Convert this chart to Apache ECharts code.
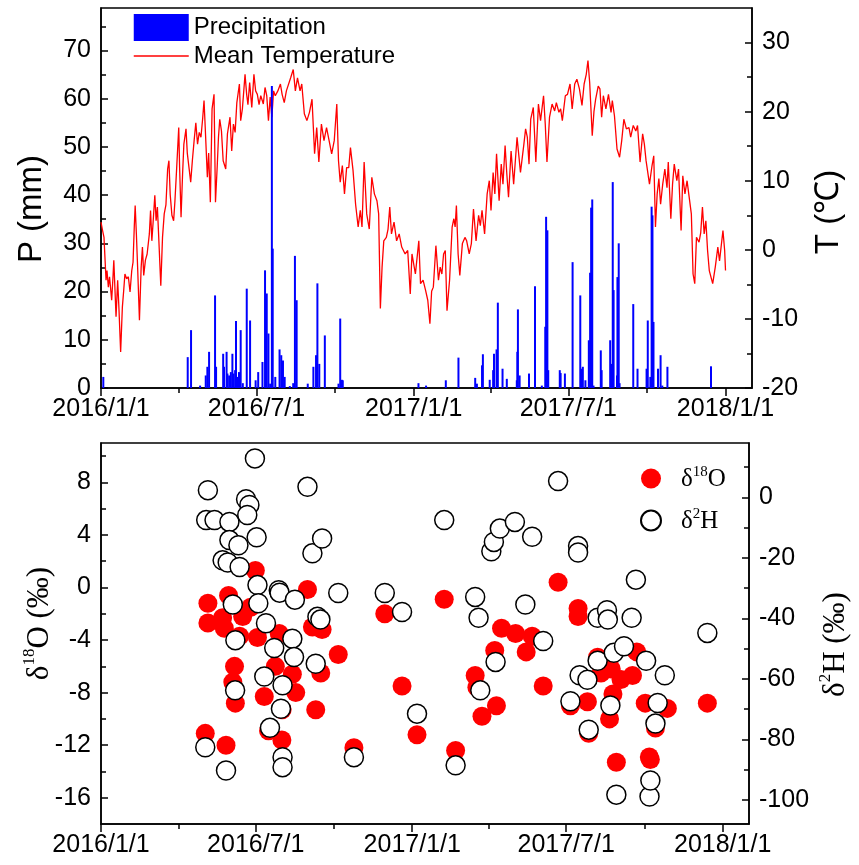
<!DOCTYPE html>
<html><head><meta charset="utf-8">
<script src="https://cdn.jsdelivr.net/npm/echarts@6/dist/echarts.min.js"></script>
<style>html,body{margin:0;padding:0;background:#fff}#c{width:859px;height:865px}</style>
</head><body><div id="c"></div>
<script>
// x positions are days counted from 2016/1/1
const xTickDays = [0, 182, 366, 547, 731];
const xTickLabels = ['2016/1/1', '2016/7/1', '2017/1/1', '2017/7/1', '2018/1/1'];
const xMinorDays = [91, 274, 456, 639];

const pTicks = [0, 10, 20, 30, 40, 50, 60, 70];
const pMinor = [5, 15, 25, 35, 45, 55, 65, 75];
const tTicks = [-20, -10, 0, 10, 20, 30];
const tMinor = [-15, -5, 5, 15, 25];
const oTicks = [-16, -12, -8, -4, 0, 4, 8];
const oMinor = [-14, -10, -6, -2, 2, 6, 10];
const hTicks = [-100, -80, -60, -40, -20, 0];
const hMinor = [-90, -70, -50, -30, -10, 10];

const tempDay = [0,1.5,3.5,5.9,7,8.6,10,12.5,14,15,17.6,19.5,21,23,25,26.5,28,30,32,34,36,37.5,39,40,41.5,43,45,47,48.5,50,52,54,56.6,58,59.5,61,63,64.5,66,67.5,70,72,74,76,78,79.5,81,83,85,86.5,88.6,91,92,93.7,95.5,97,99.5,101,103,105,107,109,111,113,115,117,119,120.6,122,124.5,126,128,130,132.3,134,136,137.5,139,141,143,146,148,151,153,155,157,159,162,163.5,165.5,168.6,170.5,172,174,176.5,179,181,183,185,187,190,192,194,196,198,200,202,204,207,210,212,214.5,217,219,222,225,227.5,230,233,235,238,241,244,247,250,252.5,255,258,261,264,267,270,273,276,278,280,282.5,285,287.5,290,292,295,298,301,303.5,305.5,308,311,314,317,320,323,325,327,329,331,334,336,338,340,343,346,349,352,356,359,362,364,368,372,374,377,380,382.5,385,387,389,392,395,397,399,401,403,405,408,411,413,414.5,416,418,420,423,426,428,431,433.5,436,439,442,444,446,449,452,454.5,456.5,459,461,463,466,468.5,470.5,473,475,477,480,483,487,491,495,497,499,501,503,506,509,512,514.5,518,520,522,525,528,531,533,536,538,540,543.5,546,549,551.5,554.5,557,560,563,565.5,568,570,572,575,577,579,582,584,586,588,591,594,597,598.5,601,604,607,609.5,612,615,618,620,623,626,628,631,634,636,638,640,642,645,647,649,651,653,655,657.5,660,662.5,664,667,669,671,674,676,679,681,683.5,686,688.5,691,693,695,697,700,702,704,706,708,710,712,714,716,719,722,724,728,730,731];
const tempVal = [4.0,3.0,1.8,-4.4,-3.0,-5.4,-3.9,-7.3,-4.0,-1.5,-9.7,-4.4,-8.5,-14.8,-8.3,-6.0,-3.5,-4.2,-3.9,-6.1,-3.0,-1.8,3.5,6.4,2.0,-3.0,-10.2,-2.5,0.4,-3.7,-1.5,-0.6,2.3,5.7,1.3,4.0,7.9,4.2,6.2,2.0,-5.2,1.8,5.2,6.5,11.7,12.9,8.0,5.0,4.2,7.0,11.9,17.7,12.0,4.7,11.0,15.3,17.5,14.0,11.9,9.8,13.0,15.8,18.4,15.3,17.0,16.3,19.0,21.6,17.7,10.5,14.0,6.9,20.4,22.5,6.9,12.0,16.3,18.9,17.2,12.9,11.7,16.8,19.2,14.3,18.2,17.0,21.3,24.0,18.7,20.4,25.4,22.5,21.0,24.2,20.6,25.4,23.0,22.5,21.0,22.3,21.1,23.5,22.3,18.7,22.1,19.2,23.0,22.3,23.0,24.0,22.5,21.3,23.0,22.8,24.9,26.1,23.0,24.9,23.0,24.0,19.7,18.7,19.9,21.8,13.9,17.7,12.7,18.2,15.8,17.7,15.8,13.9,15.8,21.1,12.9,9.8,12.2,8.1,11.9,11.9,14.8,11.5,6.6,3.3,5.7,3.3,12.7,5.2,3.0,10.5,8.1,7.1,5.2,-8.5,-2.5,1.3,1.8,3.0,6.2,2.3,4.0,1.3,2.3,0.4,-0.6,-0.1,-6.4,-0.6,-3.5,1.3,-4.9,-4.4,-5.9,-7.3,-10.7,-6.0,-5.4,0.6,-4.4,-2.5,-3.5,-0.6,-0.1,-8.8,-4.4,3.3,4.5,3.3,6.4,-0.6,-3.7,0.9,1.8,1.3,-0.6,0.9,5.9,1.3,5.0,3.5,5.7,2.3,8.1,10.0,5.7,11.2,8.1,13.9,7.1,12.4,9.5,15.1,11.0,7.6,14.3,9.5,16.3,11.2,15.3,17.5,16.3,12.4,18.9,20.6,12.7,21.1,18.7,22.3,18.2,12.7,19.2,21.1,20.1,21.3,19.9,20.4,18.7,22.3,22.5,24.0,20.4,24.0,24.7,23.3,20.9,24.0,25.4,27.4,24.2,16.5,20.0,21.8,23.7,23.3,19.2,22.3,20.4,22.5,19.9,21.6,19.4,14.6,13.4,15.8,18.9,17.5,17.7,16.3,18.0,17.2,18.0,12.7,16.8,15.3,12.9,12.7,9.5,12.2,13.6,3.3,8.1,10.3,6.6,9.5,11.7,9.0,12.7,4.5,9.5,12.4,10.0,11.7,2.8,10.7,8.1,10.0,7.6,5.2,-3.5,-4.9,1.8,1.1,2.5,6.2,2.3,4.2,-0.1,-3.0,-3.0,-4.9,-2.5,0.4,-1.6,2.8,-0.1,-3.0];

const precDay = [2.7,101.5,105.4,116,122.6,124.5,126.5,133.5,134.7,143,144,147,148,150,152,153.8,155,157,158,159.5,161.5,163.5,166,170.6,174.5,181,184,189,192,194,196,198,200,201,204,209,211,213,215,221,225,227,229,242,248.6,251.7,253.3,255.5,262,278,280,282,283,371.6,380.5,403.6,418.4,438,440,446,447,455,459,460,463,464.5,470,475,486.7,487.3,488,490,501,508,516,520,521,522.5,523.5,537,538,543,552,561,563,564,567,571,572.5,573.7,575,576.5,585,586,596,597,599,600,604,604.5,606,607,623,628,638.6,640,643,644.5,645.5,646.7,652,655,657,663,714];
const precVal = [2.3,6.4,12.0,0.5,2.6,4.4,7.5,19.2,4.4,7.1,4.4,7.5,3.0,2.6,3.3,7.1,3.0,3.7,13.9,2.3,3.3,12.0,1.0,20.6,14.0,1.6,3.3,5.4,24.4,19.6,11.3,0.9,62.6,28.9,2.3,8.0,6.8,5.7,2.3,0.4,1.0,27.4,18.2,0.9,4.4,6.8,21.7,5.0,10.9,0.9,14.4,1.7,1.6,1.0,0.5,1.6,6.3,2.1,0.9,4.7,7.0,1.7,3.7,7.1,8.0,17.7,4.0,1.9,1.6,7.5,16.3,2.6,3.0,21.1,0.5,12.7,35.5,32.7,3.7,3.7,3.1,3.0,26.1,19.2,4.0,4.4,1.6,9.9,23.9,37.4,39.1,0.5,7.8,3.7,9.9,5.0,42.7,20.3,2.6,23.0,30.0,1.0,17.4,4.0,4.0,14.0,2.3,37.6,35.8,13.7,4.0,6.8,0.5,4.4,4.5];

const o18Day = [122.6,125.7,125.7,143,145,147,150,155,157,158,163,166.6,176,181.5,184,192,197,205,209.6,212.7,213,225,229,242.8,248.6,252.5,258.4,260,279,297.4,333.7,354,371.6,403.6,417,440,442,448,463,465,471,487.5,500,507,520,537.5,552,561,561,572,573.5,584,588,598,600,602,606,611.5,625,630,640,644.8,646,652,666,713];
const o18Val = [-11.1,-1.2,-2.7,-2.3,-3.1,-12.0,-0.6,-7.2,-6.0,-8.8,-3.7,-2.2,-1.5,1.3,-3.8,-8.3,-10.9,-6.0,-3.5,-11.6,-9.3,-6.6,-8.0,-0.15,-3.0,-9.3,-6.5,-3.2,-5.1,-12.2,-2.0,-7.5,-11.2,-0.9,-12.4,-6.7,-7.6,-9.8,-4.8,-9.0,-3.1,-3.5,-4.9,-3.7,-7.5,0.4,-9.0,-1.6,-2.2,-8.7,-11.1,-5.3,-6.5,-10.0,-6.2,-8.1,-13.3,-7.0,-6.7,-4.9,-8.8,-12.9,-13.1,-10.7,-9.2,-8.8];

const h2Day = [122.6,123.7,125.7,133.5,143,149,151,151,147,155,158,157.7,161.6,163,170.6,174.5,172,181,183,184,185,192,194,198.7,203.7,209,210,211.6,213.5,213.5,213.5,225,227,228,242.8,248.6,252.5,254.5,258,260,279,297.4,333.7,354,371.6,403.6,417,440,444,446,459,462,464,469,486.7,499,507,520,537.5,552,561,561,562.8,572,573.5,584,584,595,596,599,603,606,615,624,629,641,645,646,652,654.6,663,713];
const h2Val = [-82.6,-7.5,2.4,-7.5,-20.8,-21.5,-8.1,-14.1,-90.3,-35.4,-47.2,-63.8,-15.8,-23.0,-0.6,-2.5,-5.8,12.9,-13.2,-29.0,-35.0,-59.2,-41.6,-76.2,-49.8,-30.7,-31.5,-69.9,-62.1,-85.9,-89.2,-46.7,-52.8,-33.8,3.5,-18.5,-55.0,-39.5,-40.4,-13.6,-31.6,-85.9,-31.6,-37.9,-71.5,-7.5,-88.6,-32.9,-39.8,-63.8,-17.8,-14.7,-54.4,-10.3,-8.1,-35.4,-13.0,-47.5,5.4,-67.4,-16.1,-18.2,-58.8,-60.3,-76.8,-39.8,-54.0,-37.3,-40.4,-68.8,-51.4,-98.3,-49.2,-39.8,-27.2,-54.0,-98.9,-93.6,-74.8,-68.0,-58.8,-44.8];

const zip = (a, b) => a.map((v, i) => [v, b[i]]);
const SANS = 'Liberation Sans, Arial, sans-serif';
const SERIF = 'Liberation Serif, Times New Roman, serif';
const BLACK = '#000';
const LABEL_SIZE = 25;

function xMajor(grid) {
  return {
    type: 'value', gridIndex: grid, min: 0, max: 762, position: 'bottom',
    axisLine: { show: true, onZero: false, lineStyle: { color: BLACK, width: 1.5 } },
    axisTick: { show: true, inside: false, length: 8, lineStyle: { color: BLACK, width: 1.5 }, customValues: xTickDays },
    axisLabel: { show: true, customValues: xTickDays, margin: 9, color: BLACK, fontFamily: SANS, fontSize: LABEL_SIZE,
      formatter: v => { const i = xTickDays.indexOf(v); return i >= 0 ? xTickLabels[i] : ''; } },
    splitLine: { show: false }
  };
}
function xMinorAx(grid) {
  return {
    type: 'value', gridIndex: grid, min: 0, max: 762, position: 'bottom',
    axisLine: { show: false, onZero: false },
    axisTick: { show: true, inside: false, length: 5, lineStyle: { color: BLACK, width: 1.5 }, customValues: xMinorDays },
    axisLabel: { show: false, customValues: xMinorDays },
    splitLine: { show: false }
  };
}
function yMajor(grid, pos, min, max, ticks, name, nameGap, nameStyle) {
  return {
    type: 'value', gridIndex: grid, position: pos, min: min, max: max,
    name: name, nameLocation: 'middle', nameGap: nameGap, nameTextStyle: nameStyle, nameMoveOverlap: false,
    axisLine: { show: true, onZero: false, lineStyle: { color: BLACK, width: 1.5 } },
    axisTick: { show: true, inside: true, length: 7, lineStyle: { color: BLACK, width: 1.5 }, customValues: ticks },
    axisLabel: { show: true, customValues: ticks, margin: 10, color: BLACK, fontFamily: SANS, fontSize: LABEL_SIZE },
    splitLine: { show: false }
  };
}
function yMinorAx(grid, pos, min, max, ticks) {
  return {
    type: 'value', gridIndex: grid, position: pos, min: min, max: max,
    axisLine: { show: false, onZero: false },
    axisTick: { show: true, inside: true, length: 5, lineStyle: { color: BLACK, width: 1.5 }, customValues: ticks },
    axisLabel: { show: false, customValues: ticks },
    splitLine: { show: false }
  };
}

const sansName = pad => ({ fontFamily: SANS, fontSize: 33, color: BLACK, padding: pad });
const serifRich = pad => ({
  color: BLACK, padding: pad,
  rich: {
    a: { fontFamily: SERIF, fontSize: 31, color: BLACK, lineHeight: 34, verticalAlign: 'bottom' },
    s: { fontFamily: SERIF, fontSize: 17, color: BLACK, lineHeight: 34, verticalAlign: 'top' }
  }
});

const chart = echarts.init(document.getElementById('c'), null, { renderer: 'canvas' });
chart.setOption({
  animation: false,
  backgroundColor: '#fff',
  grid: [
    { left: 101, top: 8, width: 651, height: 380, show: true, borderColor: BLACK, borderWidth: 1.5, backgroundColor: 'transparent' },
    { left: 101, top: 443, width: 651, height: 381, show: true, borderColor: BLACK, borderWidth: 1.5, backgroundColor: 'transparent' }
  ],
  legend: [
    { orient: 'vertical', left: 133, top: 14, itemWidth: 55, itemHeight: 27, itemGap: 3, padding: 0,
      textStyle: { fontFamily: SANS, fontSize: 24, color: BLACK },
      data: [{ name: 'Precipitation', icon: 'rect' },
             { name: 'Mean Temperature', itemStyle: { opacity: 0 }, lineStyle: { color: '#ff0000', width: 1.5 } }] },
    { orient: 'vertical', left: 640, top: 465, itemWidth: 50, itemHeight: 20, itemGap: 15, padding: 0,
      data: ['d18O', 'd2H'],
      formatter: n => n === 'd18O' ? '{a|δ}{s|18}{a|O}' : '{a|δ}{s|2}{a|H}',
      textStyle: { rich: {
        a: { fontFamily: SERIF, fontSize: 25, color: BLACK, lineHeight: 27, verticalAlign: 'bottom' },
        s: { fontFamily: SERIF, fontSize: 15, color: BLACK, lineHeight: 27, verticalAlign: 'top' } } } }
  ],
  xAxis: [xMajor(0), xMinorAx(0), xMajor(1), xMinorAx(1)],
  yAxis: [
    yMajor(0, 'left', 0, 78.8, pTicks, 'P (mm)', 53, sansName([0, 22, 0, 0])),
    yMinorAx(0, 'left', 0, 78.8, pMinor),
    yMajor(0, 'right', -20, 35, tTicks, 'T (℃)', 60, sansName([0, 28, 0, 0])),
    yMinorAx(0, 'right', -20, 35, tMinor),
    yMajor(1, 'left', -18, 11, oTicks, '{a|δ}{s|18}{a|O (‰)}', 46, serifRich([0, 0, 0, 20])),
    yMinorAx(1, 'left', -18, 11, oMinor),
    yMajor(1, 'right', -108, 18, hTicks, '{a|δ}{s|2}{a|H (‰)}', 68, serifRich([0, 22, 0, 0])),
    yMinorAx(1, 'right', -108, 18, hMinor)
  ],
  series: [
    { name: 'Mean Temperature', type: 'line', xAxisIndex: 0, yAxisIndex: 2, data: zip(tempDay, tempVal),
      symbol: 'none', showSymbol: false, z: 2, lineStyle: { color: '#ff0000', width: 1.3 }, itemStyle: { color: '#ff0000' } },
    { name: 'Precipitation', type: 'bar', xAxisIndex: 0, yAxisIndex: 0, data: zip(precDay, precVal),
      barWidth: 2, z: 3, itemStyle: { color: '#0000ff' } },
    { name: 'd18O', type: 'scatter', xAxisIndex: 2, yAxisIndex: 4, data: zip(o18Day, o18Val),
      symbol: 'circle', symbolSize: 19, z: 3, itemStyle: { color: '#ff0000', opacity: 1 } },
    { name: 'd2H', type: 'scatter', xAxisIndex: 2, yAxisIndex: 6, data: zip(h2Day, h2Val),
      symbol: 'circle', symbolSize: 19, z: 4, itemStyle: { color: '#ffffff', borderColor: BLACK, borderWidth: 1.5, opacity: 1 } }
  ]
});
</script></body></html>
